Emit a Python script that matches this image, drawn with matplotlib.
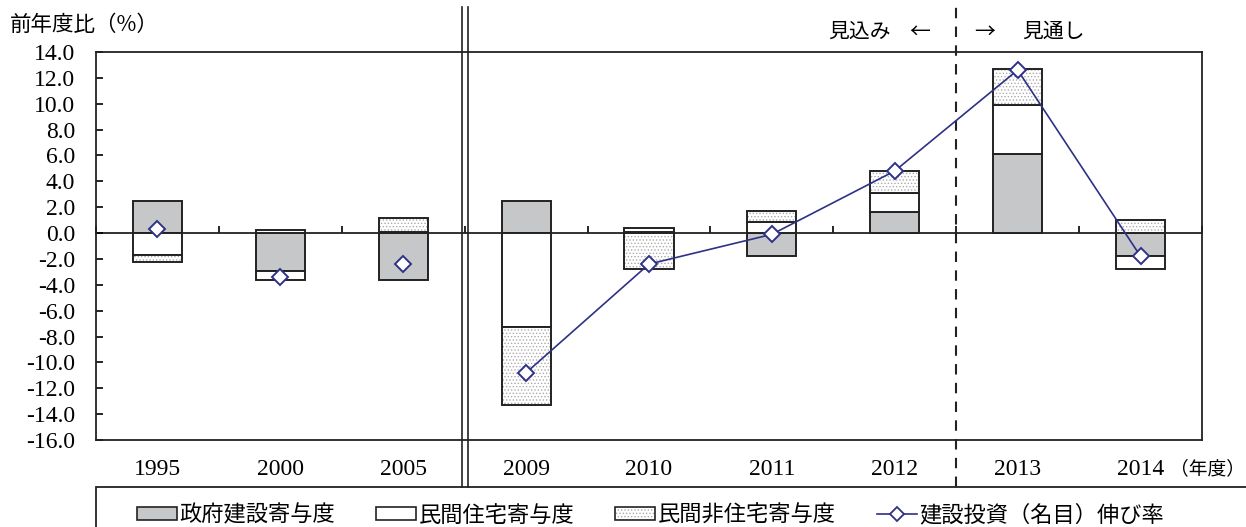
import matplotlib.pyplot as plt
import numpy as np
from matplotlib.patches import Patch, Rectangle
from matplotlib.lines import Line2D

plt.rcParams['axes.unicode_minus'] = False
plt.rcParams['hatch.linewidth'] = 0.6

JP = ['Noto Sans CJK JP', 'DejaVu Sans']
NUM = ['Liberation Serif', 'DejaVu Serif']

years = ['1995', '2000', '2005', '2009', '2010', '2011', '2012', '2013', '2014']
gov = [2.5, -2.9, -3.6, 2.5, 0.1, -1.8, 1.6, 6.1, -1.8]        # 政府建設寄与度
housing = [-1.7, -0.7, 0.1, -7.3, 0.3, 0.85, 1.5, 3.8, -1.0]   # 民間住宅寄与度
nonres = [-0.5, 0.2, 1.1, -6.0, -2.8, 0.85, 1.7, 2.8, 1.0]     # 民間非住宅寄与度
growth = [0.3, -3.4, -2.4, -10.8, -2.4, -0.1, 4.8, 12.6, -1.8]  # 建設投資（名目）伸び率

gray = '#c6c7c9'
navy = '#2e3184'

fig = plt.figure(figsize=(12.46, 5.27), dpi=100)
ax = fig.add_axes([0.077, 0.165, 0.8877, 0.7365])

x = np.arange(len(years))
w = 0.4
pos = np.zeros(len(years))
neg = np.zeros(len(years))


def stack(vals):
    vals = np.array(vals, dtype=float)
    bottom = np.where(vals >= 0, pos, neg)
    pos[:] += np.where(vals >= 0, vals, 0)
    neg[:] += np.where(vals < 0, vals, 0)
    return vals, bottom


v, b = stack(gov)
ax.bar(x, v, w, bottom=b, color=gray, edgecolor='#222222', linewidth=1.4, zorder=2)
v, b = stack(housing)
ax.bar(x, v, w, bottom=b, color='white', edgecolor='#222222', linewidth=1.4, zorder=2)
v, b = stack(nonres)
ax.bar(x, v, w, bottom=b, color='white', hatch='.....', edgecolor='#aaaaaa',
       linewidth=0, zorder=2)
ax.bar(x, v, w, bottom=b, fill=False, edgecolor='#222222', linewidth=1.4, zorder=2)

# growth rate: separate points before the break, connected line after it
mk = dict(marker='D', markersize=8, markerfacecolor='white',
          markeredgecolor=navy, markeredgewidth=1.4, zorder=4)
ax.plot(x[:3], growth[:3], ls='none', **mk)
ax.plot(x[3:], growth[3:], color=navy, lw=1.2, **mk)

ax.set_xlim(-0.5, len(years) - 0.5)
ax.set_ylim(-16, 14)
ax.set_yticks(np.arange(-16, 14.1, 2))
ax.set_yticklabels([f'{t:.1f}' for t in np.arange(-16, 14.1, 2)],
                   family=NUM, fontsize=17)
ax.tick_params(axis='y', direction='in', length=5, width=1.2, pad=15)
ax.set_xticks(x)
ax.set_xticklabels(years, family=NUM, fontsize=17)
ax.tick_params(axis='x', length=0, pad=14)
for s in ax.spines.values():
    s.set_linewidth(1.3)
    s.set_color('#222222')

# zero line with category separators
sec = ax.secondary_xaxis(16 / 30)
sec.set_xticks(np.arange(-0.5, len(years), 1.0))
sec.tick_params(direction='out', length=5, width=1.2, labeltop=False,
                labelbottom=False)
sec.spines['top'].set_linewidth(1.3)
sec.spines['top'].set_color('#222222')

# series break and forecast boundary
for dx in (-0.025, 0.025):
    ax.axvline(2.5 + dx, ymin=-0.12, ymax=1.115, color='#222222', lw=1.2,
               clip_on=False, zorder=3)
ax.axvline(6.5, ymin=-0.12, ymax=1.115, color='#222222', lw=1.5,
           ls=(0, (5, 4)), clip_on=False, zorder=3)

fig.text(0.008, 0.952, '前年度比（%）', family=JP, fontsize=15.5, va='center')
fig.text(0.6645, 0.939, '見込み', family=JP, fontsize=15, va='center')
fig.text(0.730, 0.939, '←', family=JP, fontsize=15, va='center')
fig.text(0.782, 0.939, '→', family=JP, fontsize=15, va='center')
fig.text(0.820, 0.939, '見通し', family=JP, fontsize=15, va='center')
fig.text(0.939, 0.110, '（年度）', family=JP, fontsize=13.5, va='center')

# legend box runs past the right edge
fig.patches.append(Rectangle((96 / 1246, -0.05), 1.0, 0.126, transform=fig.transFigure,
                             fill=False, edgecolor='#222222', linewidth=1.3))

handles = [
    Patch(facecolor=gray, edgecolor='#222222', linewidth=1.2),
    Patch(facecolor='white', edgecolor='#222222', linewidth=1.2),
    (Patch(facecolor='white', hatch='.....', edgecolor='#aaaaaa', linewidth=0),
     Patch(fill=False, edgecolor='#222222', linewidth=1.2)),
    Line2D([], [], color=navy, lw=1.2, marker='D', markersize=7,
           markerfacecolor='white', markeredgecolor=navy, markeredgewidth=1.3),
]
labels = ['政府建設寄与度', '民間住宅寄与度', '民間非住宅寄与度', '建設投資（名目）伸び率']
leg = fig.legend(handles, labels, loc='center left', ncol=4,
                 bbox_to_anchor=(0.110, 0.0228),
                 prop={'family': JP, 'size': 16}, frameon=False,
                 handlelength=1.8, handleheight=0.55, handletextpad=0.1,
                 columnspacing=1.85, borderaxespad=0, borderpad=0)

fig.savefig('out.png', dpi=100)
